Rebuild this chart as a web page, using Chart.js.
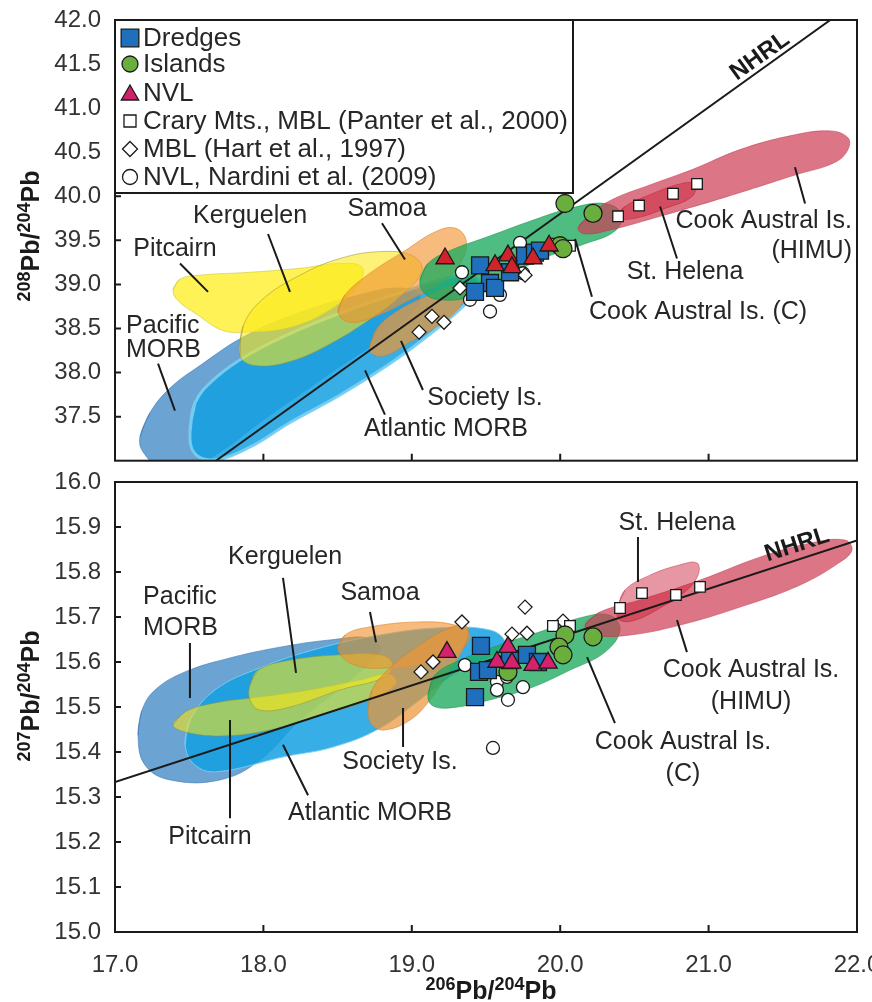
<!DOCTYPE html>
<html>
<head>
<meta charset="utf-8">
<script src="https://cdn.jsdelivr.net/npm/chart.js@4.4.1/dist/chart.umd.min.js"></script>
<style>
  html, body { margin: 0; padding: 0; background: #fff; overflow: hidden; }
  #wrap { position: relative; width: 872px; height: 1002px; }
  #c208 { position: absolute; left: 0; top: 0; }
  #c207 { position: absolute; left: 0; top: 466px; }
</style>
</head>
<body>
<div id="wrap">
  <canvas id="c208" width="872" height="474"></canvas>
  <canvas id="c207" width="872" height="536"></canvas>
</div>
<script>
// ---------- axis ticks ----------
const xTicks = [17, 18, 19, 20, 21, 22];
const y208Ticks = [37.0, 37.5, 38.0, 38.5, 39.0, 39.5, 40.0, 40.5, 41.0, 41.5, 42.0];
const y207Ticks = [15.0, 15.1, 15.2, 15.3, 15.4, 15.5, 15.6, 15.7, 15.8, 15.9, 16.0];

// ---------- samples: [206Pb/204Pb, 208Pb/204Pb] ----------
const dredges208 = [[19.460,39.216],[19.527,39.016],[19.426,38.915],[19.561,38.960],[19.662,39.138],[19.763,39.327],[19.830,39.361],[19.864,39.383]];
const islands208 = [[20.032,39.918],[20.221,39.806],[19.999,39.439],[20.019,39.405]];
const nvl208 = [[19.224,39.294],[19.561,39.216],[19.648,39.327],[19.675,39.194],[19.817,39.294],[19.925,39.439]];
const crary208 = [[20.390,39.773],[20.531,39.895],[20.760,40.029],[20.922,40.140],[19.951,39.461],[20.066,39.439]];
const hart208 = [[19.049,38.459],[19.136,38.637],[19.217,38.570],[19.325,38.960],[19.675,39.160],[19.763,39.105],[20.019,39.439]];
const nardini208 = [[19.338,39.138],[19.527,38.693],[19.392,38.826],[19.749,39.127],[19.729,39.472],[19.594,38.882]];

// ---------- samples: [206Pb/204Pb, 207Pb/204Pb] ----------
const dredges207 = [[19.466,15.636],[19.453,15.578],[19.513,15.582],[19.426,15.522],[19.662,15.604],[19.776,15.616],[19.850,15.600]];
const islands207 = [[20.032,15.660],[19.992,15.633],[20.019,15.616],[20.221,15.656],[19.648,15.578]];
const nvl207 = [[19.237,15.622],[19.648,15.633],[19.574,15.600],[19.675,15.598],[19.817,15.593],[19.918,15.598]];
const crary207 = [[19.951,15.680],[20.066,15.680],[20.403,15.720],[20.551,15.753],[20.780,15.749],[20.942,15.767]];
const hart207 = [[19.062,15.578],[19.143,15.600],[19.338,15.689],[19.675,15.662],[19.763,15.722],[19.776,15.664],[20.019,15.691]];
const nardini207 = [[19.358,15.593],[19.574,15.556],[19.574,15.538],[19.648,15.516],[19.749,15.544],[19.641,15.567],[19.547,15.409]];

// ---------- Northern Hemisphere Reference Line ----------
const nhrl208 = [[17.68,37.0],[21.82,42.0]];
const nhrl207 = [[17.0,15.333],[22.0,15.870]];

// ---------- OIB / MORB fields (outline vertices) ----------
const pacificMorb208 = [[17.168,37.267],[17.236,37.546],[17.371,37.824],[17.573,38.080],[17.876,38.414],[18.247,38.682],[18.651,38.882],[18.920,38.960],[19.055,38.860],[18.920,38.548],[18.449,37.991],[17.977,37.434],[17.708,37.100],[17.505,36.933],[17.303,36.933],[17.189,37.100]];
const atlanticMorb208 = [[17.505,37.323],[17.539,37.657],[17.674,37.935],[17.910,38.214],[18.247,38.492],[18.584,38.715],[18.920,38.904],[19.190,39.049],[19.392,39.105],[19.460,38.993],[19.358,38.771],[19.123,38.437],[18.853,38.102],[18.516,37.746],[18.179,37.434],[17.910,37.156],[17.674,37.011],[17.539,37.078]];
const pitcairn208 = [[17.391,38.938],[17.438,39.060],[17.573,39.105],[17.910,39.138],[18.247,39.183],[18.516,39.238],[18.665,39.194],[18.638,38.993],[18.449,38.715],[18.179,38.514],[17.876,38.459],[17.721,38.481],[17.553,38.659],[17.425,38.815]];
const kerguelen208 = [[17.842,38.192],[17.863,38.526],[17.991,38.826],[18.247,39.105],[18.516,39.294],[18.786,39.372],[19.001,39.327],[19.069,39.160],[18.934,38.882],[18.718,38.604],[18.449,38.325],[18.179,38.125],[17.943,38.080]];
const samoa208 = [[18.503,38.682],[18.550,38.882],[18.718,39.127],[18.954,39.383],[19.156,39.595],[19.291,39.639],[19.365,39.506],[19.338,39.272],[19.224,39.049],[18.988,38.826],[18.752,38.637],[18.584,38.570]];
const society208 = [[18.718,38.303],[18.772,38.514],[18.920,38.715],[19.123,38.882],[19.291,38.993],[19.365,38.938],[19.325,38.748],[19.190,38.548],[18.988,38.347],[18.819,38.192],[18.732,38.214]];
const cookC208 = [[19.055,39.049],[19.109,39.238],[19.257,39.383],[19.527,39.550],[19.797,39.717],[20.066,39.862],[20.302,39.918],[20.416,39.795],[20.369,39.606],[20.167,39.461],[19.898,39.305],[19.594,39.049],[19.392,38.860],[19.190,38.826],[19.082,38.904]];
const cookHimu208 = [[20.120,39.639],[20.201,39.795],[20.349,39.962],[20.605,40.129],[20.895,40.307],[21.212,40.530],[21.549,40.686],[21.818,40.742],[21.939,40.664],[21.939,40.530],[21.852,40.385],[21.582,40.241],[21.124,39.996],[20.673,39.773],[20.336,39.617],[20.167,39.572]];
const stHelena208 = [[20.369,39.751],[20.437,39.884],[20.605,40.018],[20.807,40.140],[20.908,40.140],[20.888,39.996],[20.706,39.862],[20.504,39.751]];

const pacificMorb207 = [[17.155,15.438],[17.182,15.493],[17.270,15.538],[17.472,15.578],[17.775,15.609],[18.112,15.633],[18.449,15.649],[18.718,15.653],[18.786,15.627],[18.584,15.560],[18.247,15.471],[17.977,15.382],[17.708,15.338],[17.371,15.338],[17.202,15.371]];
const atlanticMorb207 = [[17.472,15.416],[17.505,15.471],[17.674,15.538],[17.977,15.587],[18.381,15.631],[18.786,15.660],[19.190,15.676],[19.527,15.671],[19.628,15.644],[19.561,15.616],[19.325,15.582],[19.055,15.516],[18.786,15.453],[18.469,15.411],[18.132,15.389],[17.687,15.356],[17.539,15.371]];
const pitcairn207 = [[17.391,15.460],[17.472,15.489],[17.674,15.509],[17.977,15.522],[18.314,15.538],[18.651,15.560],[18.853,15.573],[18.894,15.551],[18.718,15.516],[18.381,15.482],[18.044,15.449],[17.741,15.436],[17.505,15.442]];
const kerguelen207 = [[17.910,15.549],[17.964,15.582],[18.179,15.604],[18.516,15.616],[18.786,15.616],[18.867,15.598],[18.819,15.567],[18.516,15.538],[18.179,15.500],[17.977,15.493],[17.910,15.516]];
const samoa207 = [[18.503,15.627],[18.550,15.660],[18.718,15.678],[19.055,15.689],[19.291,15.682],[19.392,15.660],[19.325,15.627],[19.123,15.600],[18.853,15.587],[18.617,15.593]];
const society207 = [[18.705,15.493],[18.732,15.538],[18.853,15.587],[19.055,15.638],[19.257,15.676],[19.372,15.678],[19.358,15.638],[19.257,15.582],[19.123,15.516],[18.988,15.471],[18.819,15.449],[18.732,15.460]];
const cookC207 = [[19.109,15.527],[19.156,15.571],[19.325,15.604],[19.594,15.638],[19.864,15.667],[20.133,15.698],[20.336,15.704],[20.403,15.671],[20.302,15.622],[20.066,15.582],[19.797,15.542],[19.527,15.516],[19.257,15.498],[19.136,15.504]];
const cookHimu207 = [[20.167,15.682],[20.268,15.711],[20.538,15.738],[20.942,15.782],[21.346,15.833],[21.683,15.864],[21.919,15.871],[21.966,15.849],[21.886,15.822],[21.616,15.771],[21.212,15.722],[20.807,15.682],[20.470,15.660],[20.235,15.660]];
const stHelena207 = [[20.383,15.716],[20.437,15.760],[20.605,15.793],[20.807,15.816],[20.922,15.820],[20.929,15.793],[20.841,15.756],[20.673,15.720],[20.504,15.693],[20.403,15.693]];

// ---------- field names and leader lines (data units) ----------
const labels208 = [
  ['Pitcairn', 17.404, 39.405, 'center'],
  ['Kerguelen', 17.910, 39.773, 'center'],
  ['Samoa', 18.833, 39.851, 'center'],
  ['Pacific', 17.074, 38.526, 'left'],
  ['MORB', 17.074, 38.258, 'left'],
  ['Society Is.', 19.493, 37.713, 'center'],
  ['Atlantic MORB', 19.230, 37.356, 'center'],
  ['Cook Austral Is. (C)', 20.929, 38.682, 'center'],
  ['St. Helena', 20.841, 39.138, 'center'],
  ['Cook Austral Is.', 21.966, 39.717, 'right'],
  ['(HIMU)', 21.966, 39.383, 'right']
];
const leaders208 = [
  [17.438,39.238,17.627,38.915],
  [18.031,39.572,18.179,38.915],
  [18.799,39.695,18.954,39.283],
  [17.290,38.102,17.404,37.568],
  [18.927,38.359,19.075,37.802],
  [18.685,38.024,18.819,37.523],
  [20.100,39.517,20.214,38.860],
  [20.673,39.884,20.787,39.294],
  [21.582,40.330,21.650,39.918]
];
const labels207 = [
  ['Pacific', 17.189, 15.744, 'left'],
  ['MORB', 17.189, 15.676, 'left'],
  ['Kerguelen', 18.146, 15.833, 'center'],
  ['Samoa', 18.786, 15.753, 'center'],
  ['Pitcairn', 17.640, 15.211, 'center'],
  ['Atlantic MORB', 18.718, 15.264, 'center'],
  ['Society Is.', 18.920, 15.378, 'center'],
  ['Cook Austral Is.', 20.827, 15.422, 'center'],
  ['(C)', 20.827, 15.351, 'center'],
  ['St. Helena', 20.787, 15.909, 'center'],
  ['Cook Austral Is.', 21.286, 15.582, 'center'],
  ['(HIMU)', 21.286, 15.511, 'center']
];
const leaders207 = [
  [17.505,15.642,17.505,15.520],
  [18.132,15.787,18.220,15.576],
  [18.718,15.711,18.759,15.644],
  [17.775,15.471,17.775,15.253],
  [18.132,15.416,18.301,15.304],
  [18.941,15.498,18.941,15.411],
  [20.181,15.611,20.369,15.464],
  [20.524,15.878,20.524,15.778],
  [20.787,15.693,20.854,15.622]
];
const nhrlLabel208 = [21.346, 41.588];
const nhrlLabel207 = [21.596, 15.860];

// ---------- styling ----------
const FONT = '"Liberation Sans", Arial, Helvetica, sans-serif';
const INK = '#1a1a1a';
const TEXT = '#262626';

const FIELD_STYLE = {
  pacific:   ['rgba(70,140,200,0.80)',  'rgba(60,120,180,0.6)'],
  atlantic:  ['rgba(20,160,225,0.85)',  'rgba(120,205,240,0.95)'],
  pitcairn:  ['rgba(255,238,40,0.78)',  'rgba(200,190,40,0.5)'],
  kerguelen: ['rgba(252,232,20,0.58)',  'rgba(150,145,60,0.55)'],
  samoa:     ['rgba(240,145,45,0.62)',  'rgba(220,130,40,0.6)'],
  society:   ['rgba(238,150,55,0.72)',  'rgba(200,130,60,0.6)'],
  cookC:     ['rgba(30,170,95,0.78)',   'rgba(30,150,80,0.6)'],
  himu:      ['rgba(205,60,82,0.70)',   'rgba(190,50,70,0.5)'],
  stHelena:  ['rgba(200,25,50,0.45)',   'rgba(180,20,40,0.4)']
};

function toXY(pts) { return pts.map(p => ({ x: p[0], y: p[1] })); }

function fieldSet(label, pts, style, order, lw) {
  const closed = pts.concat([pts[0], pts[1]]);
  return {
    type: 'scatter', label, data: toXY(closed), showLine: true, fill: 'shape',
    backgroundColor: style[0], borderColor: style[1], borderWidth: lw || 1,
    pointRadius: 0, tension: 0.4, order
  };
}
function sampleSet(label, pts, shape, radius, color, order) {
  return {
    type: 'scatter', label, data: toXY(pts), showLine: false,
    pointStyle: shape, pointRadius: radius, pointHoverRadius: radius,
    pointBackgroundColor: color, pointBorderColor: INK, pointBorderWidth: 1.3, order
  };
}
function lineSet(label, pts) {
  return { type: 'scatter', label, data: toXY(pts), showLine: true, borderColor: INK,
           borderWidth: 2, pointRadius: 0, fill: false, order: 10 };
}

// ---------- plugins ----------
const framePlugin = {
  id: 'frame',
  afterDatasetsDraw(chart, args, o) {
    const { ctx, chartArea: a, scales } = chart;
    ctx.save();
    ctx.strokeStyle = INK; ctx.lineWidth = 2;
    ctx.beginPath();
    o.xMarks.forEach(v => { const x = scales.x.getPixelForValue(v); ctx.moveTo(x, a.bottom); ctx.lineTo(x, a.bottom - 7); });
    o.yMarks.forEach(v => { const y = scales.y.getPixelForValue(v); ctx.moveTo(a.left, y); ctx.lineTo(a.left + 6, y); });
    ctx.stroke();
    ctx.strokeRect(a.left, a.top, a.right - a.left, a.bottom - a.top);
    ctx.restore();
  }
};

const notesPlugin = {
  id: 'notes',
  afterDatasetsDraw(chart, args, o) {
    const { ctx, scales } = chart;
    const X = v => scales.x.getPixelForValue(v), Y = v => scales.y.getPixelForValue(v);
    ctx.save();
    ctx.strokeStyle = INK; ctx.lineWidth = 2;
    ctx.beginPath();
    o.leaders.forEach(l => { ctx.moveTo(X(l[0]), Y(l[1])); ctx.lineTo(X(l[2]), Y(l[3])); });
    ctx.stroke();
    ctx.fillStyle = TEXT; ctx.font = '25px ' + FONT; ctx.textBaseline = 'middle';
    o.labels.forEach(t => { ctx.textAlign = t[3]; ctx.fillText(t[0], X(t[1]), Y(t[2])); });
    // NHRL tag, rotated along the reference line
    const p0 = o.line[0], p1 = o.line[1];
    const ang = Math.atan2(Y(p1[1]) - Y(p0[1]), X(p1[0]) - X(p0[0]));
    ctx.translate(X(o.nhrl[0]), Y(o.nhrl[1]));
    ctx.rotate(ang);
    ctx.font = 'bold 24px ' + FONT; ctx.textAlign = 'center'; ctx.fillStyle = INK;
    ctx.fillText('NHRL', 0, 0);
    ctx.restore();
  }
};

// isotope-ratio title with superscript mass numbers
function drawIsoTitle(ctx, parts, cx, cy, rot) {
  const big = 'bold 25px ' + FONT, small = 'bold 18px ' + FONT;
  let w = 0;
  parts.forEach(p => { ctx.font = p[1] ? small : big; w += ctx.measureText(p[0]).width; });
  ctx.save();
  ctx.translate(cx, cy); ctx.rotate(rot);
  ctx.fillStyle = INK; ctx.textAlign = 'left'; ctx.textBaseline = 'alphabetic';
  let x = -w / 2;
  parts.forEach(p => {
    ctx.font = p[1] ? small : big;
    ctx.fillText(p[0], x, p[1] ? 0 : 9);
    x += ctx.measureText(p[0]).width;
  });
  ctx.restore();
}
const titlePlugin = {
  id: 'isoTitles',
  afterDraw(chart, args, o) {
    o.items.forEach(t => drawIsoTitle(chart.ctx, t.parts, t.x, t.y, t.rot));
  }
};

function marker(ctx, shape, x, y, r, fill) {
  ctx.save();
  ctx.fillStyle = fill; ctx.strokeStyle = INK; ctx.lineWidth = 1.3;
  ctx.beginPath();
  if (shape === 'rect') { const s = r * Math.SQRT1_2; ctx.rect(x - s, y - s, 2 * s, 2 * s); }
  else if (shape === 'circle') { ctx.arc(x, y, r, 0, Math.PI * 2); }
  else if (shape === 'triangle') {
    for (let i = 0; i < 3; i++) { const a = -Math.PI / 2 + i * 2 * Math.PI / 3; const px = x + r * Math.cos(a), py = y + r * Math.sin(a) + r * 0.2; i ? ctx.lineTo(px, py) : ctx.moveTo(px, py); }
    ctx.closePath();
  } else if (shape === 'rectRot') { ctx.moveTo(x - r, y); ctx.lineTo(x, y - r); ctx.lineTo(x + r, y); ctx.lineTo(x, y + r); ctx.closePath(); }
  ctx.fill(); ctx.stroke();
  ctx.restore();
}

const KEY = [
  ['Dredges', 'rect', 12.5, '#1f6fbd'],
  ['Islands', 'circle', 8, '#6aaf3d'],
  ['NVL', 'triangle', 10, '#cf226c'],
  ['Crary Mts., MBL (Panter et al., 2000)', 'rect', 8.5, '#ffffff'],
  ['MBL (Hart et al., 1997)', 'rectRot', 7.5, '#ffffff'],
  ['NVL, Nardini et al. (2009)', 'circle', 7.5, '#ffffff']
];
const keyPlugin = {
  id: 'keyBox',
  afterDraw(chart) {
    const { ctx, chartArea: a } = chart;
    const left = a.left, top = a.top, right = 573, bottom = 193;
    ctx.save();
    ctx.fillStyle = '#fff';
    ctx.fillRect(left, top, right - left, bottom - top);
    ctx.strokeStyle = INK; ctx.lineWidth = 2;
    ctx.strokeRect(left, top, right - left, bottom - top);
    const rows = [38, 64, 93, 121, 149, 177];
    ctx.font = '26px ' + FONT; ctx.textBaseline = 'middle'; ctx.textAlign = 'left';
    KEY.forEach((k, i) => {
      marker(ctx, k[1], 130, rows[i], k[2], k[3]);
      ctx.fillStyle = TEXT;
      ctx.fillText(k[0], 143, rows[i] + 1);
    });
    ctx.restore();
  }
};

function yScale(min, max, ticks, fmt) {
  return {
    type: 'linear', min, max,
    grid: { display: false, drawTicks: false }, border: { display: false },
    afterBuildTicks: s => { s.ticks = ticks.map(v => ({ value: v })); },
    ticks: { font: { family: FONT, size: 24 }, color: '#333', padding: 14, callback: fmt },
    afterFit: s => { s.width = 115; s.paddingTop = 0; s.paddingBottom = 0; }
  };
}

Chart.defaults.font.family = FONT;

// ---------- upper panel: 208Pb/204Pb ----------
new Chart(document.getElementById('c208'), {
  type: 'scatter',
  data: {
    datasets: [
      sampleSet('NVL', nvl208, 'triangle', 10.5, '#d2232c', 1),
      sampleSet('Dredges', dredges208, 'rect', 12, '#1f6fbd', 2),
      sampleSet('Islands', islands208, 'circle', 9, '#6aaf3d', 3),
      sampleSet('Crary Mts., MBL', crary208, 'rect', 7.5, '#ffffff', 4),
      sampleSet('MBL', hart208, 'rectRot', 7, '#ffffff', 5),
      sampleSet('NVL, Nardini', nardini208, 'circle', 6.5, '#ffffff', 6),
      lineSet('NHRL', nhrl208),
      fieldSet('St. Helena', stHelena208, FIELD_STYLE.stHelena, 21),
      fieldSet('Cook Austral Is. (HIMU)', cookHimu208, FIELD_STYLE.himu, 22),
      fieldSet('Cook Austral Is. (C)', cookC208, FIELD_STYLE.cookC, 23),
      fieldSet('Society Is.', society208, FIELD_STYLE.society, 24),
      fieldSet('Samoa', samoa208, FIELD_STYLE.samoa, 25),
      fieldSet('Kerguelen', kerguelen208, FIELD_STYLE.kerguelen, 26),
      fieldSet('Pitcairn', pitcairn208, FIELD_STYLE.pitcairn, 27),
      fieldSet('Atlantic MORB', atlanticMorb208, FIELD_STYLE.atlantic, 28, 3),
      fieldSet('Pacific MORB', pacificMorb208, FIELD_STYLE.pacific, 29)
    ]
  },
  options: {
    responsive: false, animation: false, devicePixelRatio: 1, events: [],
    layout: { padding: { left: 0, right: 15, top: 20, bottom: 5 } },
    scales: {
      x: {
        type: 'linear', min: 17, max: 22,
        grid: { display: false, drawTicks: false }, border: { display: false },
        ticks: { display: false },
        afterFit: s => { s.height = 0; s.paddingLeft = 0; s.paddingRight = 0; }
      },
      y: yScale(37, 42, y208Ticks, v => (v === 37 ? '' : v.toFixed(1)))
    },
    plugins: {
      legend: { display: false }, tooltip: { enabled: false },
      frame: { xMarks: [18, 19, 20, 21], yMarks: [37.5, 38, 38.5, 39, 39.5, 40, 40.5, 41, 41.5] },
      notes: { labels: labels208, leaders: leaders208, nhrl: nhrlLabel208, line: nhrl208 },
      isoTitles: { items: [{ parts: [['208', 1], ['Pb', 0], ['/', 0], ['204', 1], ['Pb', 0]], x: 30, y: 236, rot: -Math.PI / 2 }] }
    }
  },
  plugins: [framePlugin, notesPlugin, titlePlugin, keyPlugin]
});

// ---------- lower panel: 207Pb/204Pb ----------
new Chart(document.getElementById('c207'), {
  type: 'scatter',
  data: {
    datasets: [
      sampleSet('NVL', nvl207, 'triangle', 10.5, '#d4226e', 1),
      sampleSet('Dredges', dredges207, 'rect', 12, '#1f6fbd', 2),
      sampleSet('Islands', islands207, 'circle', 9, '#6aaf3d', 3),
      sampleSet('Crary Mts., MBL', crary207, 'rect', 7.5, '#ffffff', 4),
      sampleSet('MBL', hart207, 'rectRot', 7, '#ffffff', 5),
      sampleSet('NVL, Nardini', nardini207, 'circle', 6.5, '#ffffff', 6),
      lineSet('NHRL', nhrl207),
      fieldSet('St. Helena', stHelena207, FIELD_STYLE.stHelena, 21),
      fieldSet('Cook Austral Is. (HIMU)', cookHimu207, FIELD_STYLE.himu, 22),
      fieldSet('Cook Austral Is. (C)', cookC207, FIELD_STYLE.cookC, 23),
      fieldSet('Society Is.', society207, FIELD_STYLE.society, 24),
      fieldSet('Samoa', samoa207, FIELD_STYLE.samoa, 25),
      fieldSet('Kerguelen', kerguelen207, FIELD_STYLE.kerguelen, 26),
      fieldSet('Pitcairn', pitcairn207, FIELD_STYLE.kerguelen, 27),
      fieldSet('Atlantic MORB', atlanticMorb207, FIELD_STYLE.atlantic, 28, 1),
      fieldSet('Pacific MORB', pacificMorb207, FIELD_STYLE.pacific, 29)
    ]
  },
  options: {
    responsive: false, animation: false, devicePixelRatio: 1, events: [],
    layout: { padding: { left: 0, right: 15, top: 16, bottom: 0 } },
    scales: {
      x: {
        type: 'linear', min: 17, max: 22,
        grid: { display: false, drawTicks: false }, border: { display: false },
        afterBuildTicks: s => { s.ticks = xTicks.map(v => ({ value: v })); },
        ticks: { font: { family: FONT, size: 24 }, color: '#333', padding: 19, maxRotation: 0, callback: v => v.toFixed(1) },
        afterFit: s => { s.height = 70; s.paddingLeft = 0; s.paddingRight = 0; }
      },
      y: yScale(15, 16, y207Ticks, v => v.toFixed(1))
    },
    plugins: {
      legend: { display: false }, tooltip: { enabled: false },
      frame: { xMarks: [18, 19, 20, 21], yMarks: [15.1, 15.2, 15.3, 15.4, 15.5, 15.6, 15.7, 15.8, 15.9] },
      notes: { labels: labels207, leaders: leaders207, nhrl: nhrlLabel207, line: nhrl207 },
      isoTitles: { items: [
        { parts: [['207', 1], ['Pb', 0], ['/', 0], ['204', 1], ['Pb', 0]], x: 30, y: 230, rot: -Math.PI / 2 },
        { parts: [['206', 1], ['Pb', 0], ['/', 0], ['204', 1], ['Pb', 0]], x: 491, y: 524, rot: 0 }
      ] }
    }
  },
  plugins: [framePlugin, notesPlugin, titlePlugin]
});
</script>
</body>
</html>
